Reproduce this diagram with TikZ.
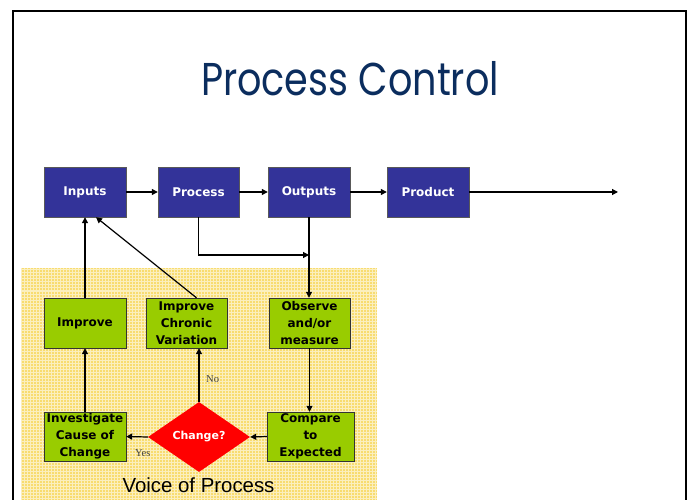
\documentclass[tikz,border=0pt]{standalone}
\usepackage{fontspec}
\setmainfont{Liberation Sans}
\newfontfamily\boxfont{DejaVu Sans}
\newfontfamily\titlefont{Poppins}
\newfontfamily\serifont{Liberation Serif}
\usetikzlibrary{arrows.meta,shapes.geometric,calc}
\definecolor{boxblue}{HTML}{333399}
\definecolor{boxgreen}{HTML}{99CC00}
\definecolor{titleblue}{HTML}{0B2D5E}
\definecolor{yelbg}{HTML}{F8DC70}
\begin{document}
\begin{tikzpicture}[x=1pt,y=-1pt,
  bluebox/.style={draw=black!65, fill=boxblue, text=white, font=\boxfont\bfseries\fontsize{12}{14}\selectfont, minimum width=82pt, minimum height=50pt, inner sep=0pt},
  greenbox/.style={draw=black!80, fill=boxgreen, text=black, font=\boxfont\bfseries\fontsize{12}{17}\selectfont, align=center, minimum width=82pt, minimum height=50pt, inner sep=0pt},
  decision/.style={diamond, fill=red, text=white, font=\boxfont\bfseries\fontsize{11}{13}\selectfont, minimum width=102pt, minimum height=70pt, aspect=1.46, inner sep=0pt},
  arr/.style={-{Triangle[length=6pt,width=6pt]}, line width=1.2pt},
  lbl/.style={font=\serifont\fontsize{10.5}{12}\selectfont, text=black!75, inner sep=0pt}]
\useasboundingbox (0,0) rectangle (689,500);
% yellow background
\begin{scope}
\clip (21,268) rectangle (377,500);
\fill[yelbg] (21,268) rectangle (377,500);
\draw[white, line width=1pt, opacity=0.55, step=3pt] (21,268) grid (377,500);
\end{scope}
% frame
\draw[line width=2pt] (13,505) -- (13,11) -- (686,11) -- (686,505);
% title
\node[anchor=base, text=titleblue, inner sep=0pt] (title) at (350,96) {\scalebox{0.83}[1]{\titlefont\fontsize{46}{46}\selectfont Process Control}};
% top row
\node[bluebox] (inp) at (85,192) {Inputs};
\node[bluebox, minimum width=81pt] (proc) at (198.5,192) {Process};
\node[bluebox] (out) at (309,192) {Outputs};
\node[bluebox] (prod) at (428,192) {Product};
\coordinate (end) at (618,192);
% green boxes
\node[greenbox] (imp) at (85,323) {Improve};
\node[greenbox, minimum width=81pt] (chr) at (186.5,323) {Improve\\Chronic\\Variation};
\node[greenbox, minimum width=81pt] (obs) at (309.5,323) {Observe\\and/or\\measure};
\node[greenbox, minimum height=49pt] (inv) at (85,436.5) {Investigate\\Cause of\\Change};
\node[greenbox, minimum width=87pt, minimum height=49pt] (cmp) at (310.5,436.5) {Compare\\to\\Expected};
\node[decision] (dia) at (199,437) {Change?};
\coordinate (join) at (309,255);
% connectors
\draw[arr] (inp) -- (proc);
\draw[arr] (proc) -- (out);
\draw[arr] (out) -- (prod);
\draw[arr] (prod) -- (end);
\draw[arr] (proc.south) |- (join);
\draw[arr] (out.south) -- (obs.north -| out.south);
\draw[arr] (obs.south) -- (obs.south |- cmp.north);
\draw[arr] (cmp.west) -- (dia.east);
\draw[arr] (dia.west) -- (inv.east);
\draw[arr] (dia.north) -- (dia.north |- chr.south);
\draw[arr] (inv.north) -- (imp.south);
\draw[arr] (imp.north) -- (inp.south);
\draw[arr] ([xshift=10pt]chr.north) -- ([xshift=11pt]inp.south);
% labels
\node[lbl, anchor=base west] (no) at (206,382) {No};
\node[lbl, anchor=base west] (yes) at (135,456) {Yes};
\node[anchor=base, inner sep=0pt, font=\fontsize{20.4}{22}\selectfont] (vop) at (198.5,492) {Voice of Process};
\end{tikzpicture}
\end{document}
